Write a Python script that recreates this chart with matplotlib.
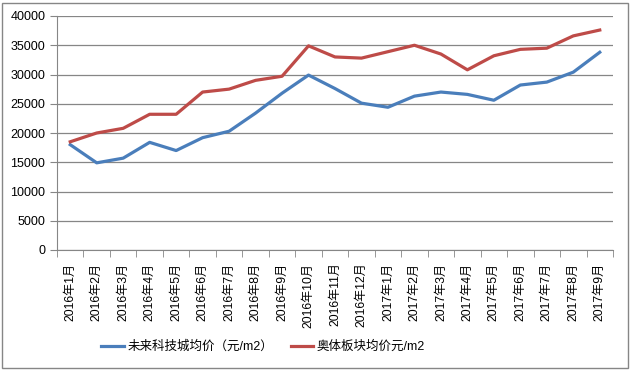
import numpy as np
import matplotlib.pyplot as plt
from matplotlib.patches import Rectangle

plt.rcParams['font.family'] = ['Liberation Sans', 'Noto Sans CJK SC']

months = ['2016年%d月' % m for m in range(1, 13)] + ['2017年%d月' % m for m in range(1, 10)]
weilai = [18000, 14900, 15700, 18400, 17000, 19200, 20300, 23400, 26800, 29900,
          27600, 25100, 24400, 26300, 27000, 26600, 25600, 28200, 28700, 30400, 33800]
aoti = [18500, 20000, 20800, 23200, 23200, 27000, 27500, 29000, 29700, 34900,
        33000, 32800, 33900, 35000, 33500, 30800, 33200, 34300, 34500, 36600, 37600]
labels = ['未来科技城均价（元/m2）', '奥体板块均价元/m2']

fig = plt.figure(figsize=(6.31, 3.70), dpi=100)
ax = fig.add_axes([57 / 631, 1 - 250 / 370, 556 / 631, 234 / 370])

x = np.arange(len(months))
ax.plot(x, weilai, color='#4A7EBB', lw=2.3, label=labels[0])
ax.plot(x, aoti, color='#BE4B48', lw=2.3, label=labels[1])

ax.set_xlim(-0.5, len(months) - 0.5)
ax.set_ylim(0, 40000)
ax.set_yticks(range(0, 40001, 5000))
ax.yaxis.grid(True, color='#868686', lw=0.9)
ax.set_axisbelow(True)

ax.set_xticks(x)
ax.set_xticklabels(months, rotation=90, fontsize=8.7)
ax.set_xticks(np.arange(-0.5, len(months)), minor=True)
ax.tick_params(axis='x', which='major', length=0, pad=9)
ax.tick_params(axis='x', which='minor', length=5, color='#868686', direction='out')
ax.tick_params(axis='y', length=5, color='#868686', labelsize=9, direction='out')

for s in ['top', 'right']:
    ax.spines[s].set_visible(False)
for s in ['left', 'bottom']:
    ax.spines[s].set_color('#868686')

fig.legend(loc='center', bbox_to_anchor=(263 / 631, 1 - 347 / 370), ncol=2, frameon=False,
           fontsize=9, handlelength=1.8, columnspacing=1.4, handletextpad=0.3)

fig.patches.append(Rectangle((2 / 631, 2 / 370), 626 / 631, 365 / 370, transform=fig.transFigure,
                             fill=False, edgecolor='#868686', lw=1))

fig.savefig('out.png', dpi=100)
